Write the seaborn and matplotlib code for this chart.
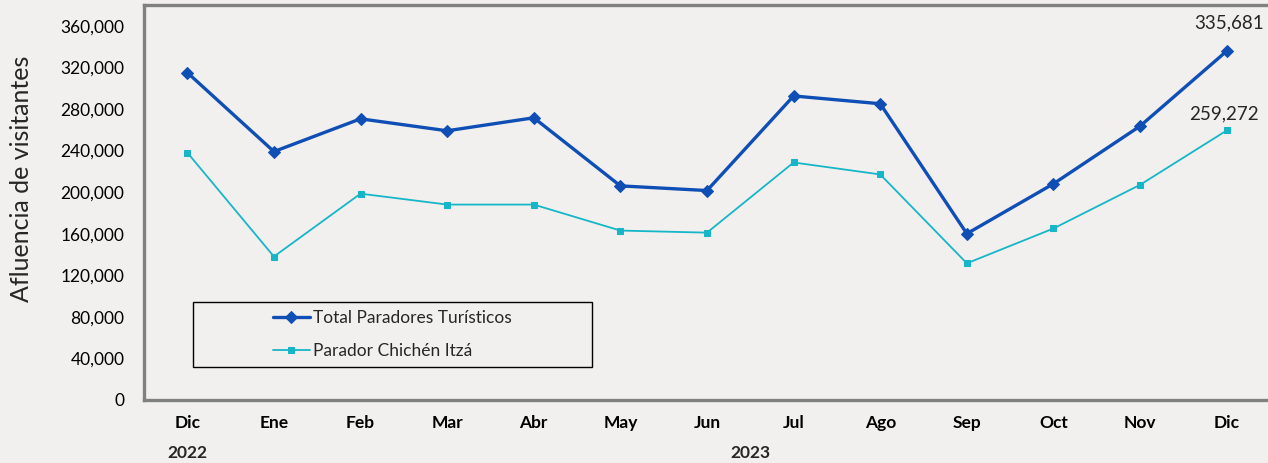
import pandas as pd
import matplotlib.pyplot as plt
import matplotlib.transforms as mtransforms
from matplotlib.patches import Rectangle
from matplotlib.ticker import FuncFormatter
import seaborn as sns

# ---------------------------------------------------------
# Data
# ---------------------------------------------------------
months = ["Dic", "Ene", "Feb", "Mar", "Abr", "May", "Jun",
          "Jul", "Ago", "Sep", "Oct", "Nov", "Dic"]
total_paradores = [315000, 239000, 270500, 259000, 271500, 206000, 201500,
                   292500, 285000, 160000, 208000, 263500, 335681]
parador_chichen = [238000, 138000, 198500, 188000, 188000, 163000, 161000,
                   228500, 217000, 131500, 165000, 207000, 259272]
year_labels = ["2022", "2023"]

df = pd.DataFrame({
    "pos": range(len(months)),
    "total": total_paradores,
    "chichen": parador_chichen,
})

bg = "#F1F0EE"
c_total = "#0F4FB5"
c_chichen = "#16B6C8"

sns.set_style("white")
plt.rcParams["font.family"] = ["Lato", "DejaVu Sans"]

fig = plt.figure(figsize=(12.68, 4.63), dpi=100, facecolor=bg)
ax = fig.add_axes([144 / 1268, 63 / 463, 1126 / 1268, 395 / 463])
ax.set_facecolor(bg)

sns.lineplot(data=df, x="pos", y="total", ax=ax, color=c_total, linewidth=2.4,
             marker="D", markersize=6, markeredgecolor=c_total,
             label="Total Paradores Turísticos")
sns.lineplot(data=df, x="pos", y="chichen", ax=ax, color=c_chichen, linewidth=1.3,
             marker="s", markersize=5, markeredgecolor=c_chichen,
             label="Parador Chichén Itzá")

# value labels on the last point
ax.annotate(f"{total_paradores[-1]:,}", (len(months) - 1, total_paradores[-1]),
            xytext=(2, 14), textcoords="offset points", ha="center", va="bottom",
            fontsize=13.5)
ax.annotate(f"{parador_chichen[-1]:,}", (len(months) - 1, parador_chichen[-1]),
            xytext=(-2, 6), textcoords="offset points", ha="center", va="bottom",
            fontsize=13.5)

ax.set_xlim(-0.5, len(months) - 0.5)
ax.set_ylim(0, 380000)
ax.set_yticks(range(0, 360001, 40000))
ax.yaxis.set_major_formatter(FuncFormatter(lambda v, p: f"{int(v):,}"))
ax.set_xticks(range(len(months)))
ax.set_xticklabels(months, fontweight="bold")
ax.tick_params(axis="both", length=0, labelsize=12.5, colors="black")
ax.tick_params(axis="x", pad=11)
ax.tick_params(axis="y", pad=14)
ax.set_xlabel("")
ax.set_ylabel("Afluencia de visitantes", fontsize=18)
ax.yaxis.set_label_coords(-0.099, 0.56)

# year labels below month labels
trans = mtransforms.blended_transform_factory(ax.transData, ax.transAxes)
ax.text(0, -0.135, year_labels[0], transform=trans, ha="center", va="center",
        fontsize=12.5, fontweight="bold")
ax.text((1 + len(months) - 1) / 2, -0.135, year_labels[1], transform=trans,
        ha="center", va="center", fontsize=12.5, fontweight="bold")

for side in ["left", "top", "bottom"]:
    ax.spines[side].set_color("#808080")
    ax.spines[side].set_linewidth(2.4)
ax.spines["right"].set_visible(False)

# legend: centred entries inside a plain black box
box_x, box_y, box_w, box_h = 49 / 1126, 33 / 395, 399 / 1126, 65 / 395
ax.add_patch(Rectangle((box_x, box_y), box_w, box_h, transform=ax.transAxes,
                       facecolor="none", edgecolor="black", linewidth=1.0, zorder=5))
leg = ax.legend(loc="center", bbox_to_anchor=(box_x + box_w / 2, box_y + box_h / 2),
                frameon=False, fontsize=12.5, handlelength=2.1, handletextpad=0.2,
                borderpad=0.2, labelspacing=0.95)

plt.savefig("out.png", dpi=100, facecolor=bg)
